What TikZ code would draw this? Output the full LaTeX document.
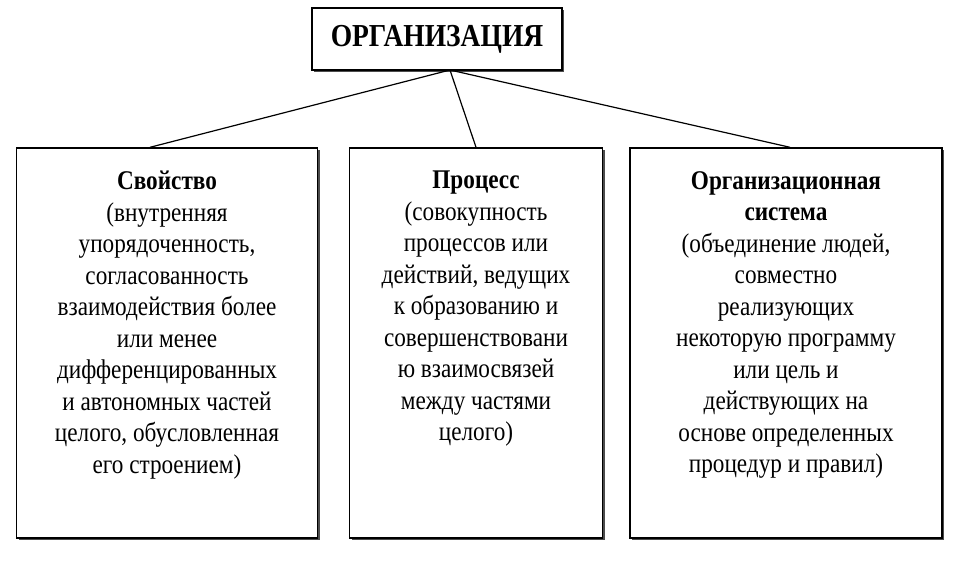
\documentclass[tikz,border=0pt]{standalone}
\usepackage{fontspec}
\setmainfont{Liberation Serif}[FakeStretch=0.86]
\usetikzlibrary{positioning,shadows}

\begin{document}
\begin{tikzpicture}[x=1pt,y=-1pt,
    box/.style={draw,line width=1.4pt,fill=white,drop shadow={shadow xshift=2pt,shadow yshift=-2pt,opacity=1,fill=black!70}},
    txt/.style={align=center,font=\fontsize{27}{31.5}\selectfont,inner sep=0pt}]
  \useasboundingbox (0,0) rectangle (960,564);
  % верхний блок
  \node[box,minimum width=250,minimum height=62,font=\fontsize{32}{34}\selectfont\bfseries] (org) at (437,39) {ОРГАНИЗАЦИЯ};
  % три блока
  \node[box,minimum width=301,minimum height=390] (prop) at (167,343) {};
  \node[box,minimum width=253,minimum height=390] (proc) at (476,343) {};
  \node[box,minimum width=312,minimum height=390] (sys) at (786,343) {};
  \node[txt,anchor=north] (propT) at (167,171) {\textbf{Свойство}\\(внутренняя\\упорядоченность,\\согласованность\\взаимодействия более\\или менее\\дифференцированных\\и автономных частей\\целого, обусловленная\\его строением)};
  \node[txt,anchor=north] (procT) at (476,171) {\textbf{Процесс}\\(совокупность\\процессов или\\действий, ведущих\\к образованию и\\совершенствовани\\ю взаимосвязей\\между частями\\целого)};
  \node[txt,anchor=north] (sysT) at (786,171) {\textbf{Организационная}\\\textbf{система}\\(объединение людей,\\совместно\\реализующих\\некоторую программу\\или цель и\\действующих на\\основе определенных\\процедур и правил)};
  % связи
  \coordinate (root) at (450,70);
  \draw[line width=1.2pt] (root) -- (prop.north -| 150,0);
  \draw[line width=1.2pt] (root) -- (proc.north);
  \draw[line width=1.2pt] (root) -- (sys.north -| 790,0);
\end{tikzpicture}
\end{document}
